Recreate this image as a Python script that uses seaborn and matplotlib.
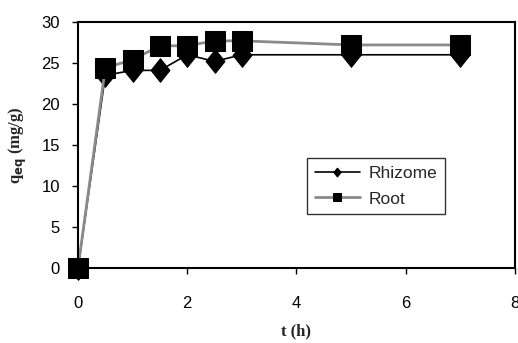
import matplotlib
matplotlib.use("Agg")
import matplotlib.pyplot as plt
import seaborn as sns
import pandas as pd

t_hours = [0, 0.5, 1, 1.5, 2, 2.5, 3, 5, 7]
rhizome = [0, 23.5, 24.1, 24.1, 26.0, 25.2, 26.0, 26.0, 26.0]
root = [0, 24.4, 25.4, 27.1, 27.1, 27.7, 27.7, 27.2, 27.2]
x_ticks = [0, 2, 4, 6, 8]
y_ticks = [0, 5, 10, 15, 20, 25, 30]

sns.set_theme(style="ticks")
plt.rcParams['font.family'] = ['Liberation Sans', 'DejaVu Sans']

fig = plt.figure(figsize=(5.18, 3.43), dpi=100)
ax = fig.add_axes([0.1506, 0.2187, 0.8434, 0.7172])

df_rh = pd.DataFrame({"t": t_hours, "q": rhizome})
df_ro = pd.DataFrame({"t": t_hours, "q": root})

diamond = [(0, 1), (0.8, 0), (0, -1), (-0.8, 0), (0, 1)]

sns.lineplot(data=df_rh, x="t", y="q", ax=ax, color="black", lw=1.2,
             marker=diamond, markersize=17, markerfacecolor="black",
             markeredgecolor="black", label="Rhizome")
sns.lineplot(data=df_ro, x="t", y="q", ax=ax, color="#8a8a8a", lw=2.0,
             marker="s", markersize=14, markerfacecolor="black",
             markeredgecolor="black", label="Root")

ax.set_xlim(0, 8)
ax.set_ylim(0, 30)
ax.set_xticks(x_ticks)
ax.set_yticks(y_ticks)
ax.tick_params(axis="both", labelsize=12, length=4, width=1, direction="out", colors="black")
ax.tick_params(axis="x", pad=16)
ax.tick_params(axis="y", pad=9)
for s in ax.spines.values():
    s.set_visible(True)
    s.set_color("black")
    s.set_linewidth(1.5)
ax.set_xlabel("t (h)", fontsize=12, fontweight="bold", family="Liberation Serif", labelpad=9)
ax.set_ylabel(r"q$_{\mathbf{eq}}$ (mg/g)", fontsize=12, fontweight="bold", family="Liberation Serif", labelpad=9)

for ln in ax.lines:
    ln.set_clip_on(False)

leg = ax.legend(loc="upper left", bbox_to_anchor=(0.524, 0.447), frameon=True,
                fancybox=False, edgecolor="black", fontsize=12.5, borderaxespad=0,
                handlelength=2.6, markerscale=0.38, borderpad=0.45, labelspacing=0.6,
                handletextpad=0.5)
leg.get_frame().set_linewidth(1.0)

fig.savefig("out.png", dpi=100)
